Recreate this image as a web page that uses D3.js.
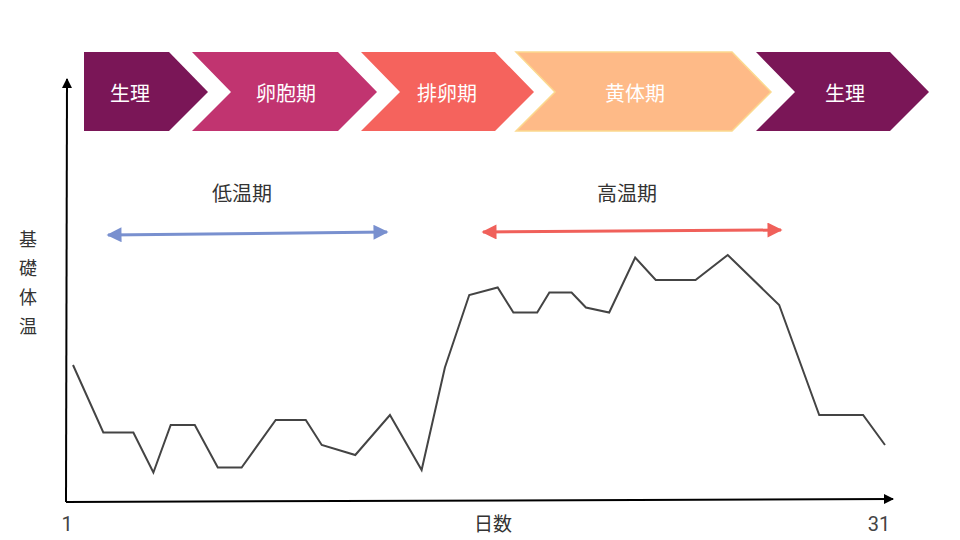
<!DOCTYPE html>
<html>
<head>
<meta charset="UTF-8">
<title>基礎体温</title>
<script type="text/javascript" src="https://cdn.jsdelivr.net/npm/d3@7/dist/d3.min.js"></script>
<style>
  body { margin: 0; background: #fff; }
  text { font-family: "Noto Sans CJK JP", "Noto Sans", sans-serif; }
</style>
</head>
<body>
<script type="text/javascript">
// 日（図から読んだ位置、等間隔ではない）
var days = [1, 2.12, 3.23, 3.97, 4.61, 5.5, 6.35, 7.23, 8.49, 9.6,
            10.19, 11.43, 12.71, 13.88, 14.74, 15.64, 16.69, 17.27, 18.15, 18.6,
            19.42, 19.95, 20.81, 21.77, 22.53, 24.0, 25.19, 27.09, 28.57, 30.19, 31];
// 体温（相対値）
var temps = [36.54, 36.27, 36.27, 36.11, 36.30, 36.30, 36.13, 36.13, 36.32, 36.32,
             36.22, 36.18, 36.34, 36.12, 36.53, 36.82, 36.85, 36.75, 36.75, 36.83,
             36.83, 36.77, 36.75, 36.97, 36.88, 36.88, 36.98, 36.78, 36.34, 36.34, 36.22];

var phaseNames = ["生理", "卵胞期", "排卵期", "黄体期", "生理"];
var phaseColors = ["#7a1657", "#c13470", "#f5635d", "#feba87", "#7a1657"];
var tickDays = [1, 31];
var periodNames = ["低温期", "高温期"];

var w = 960, h = 540;

var svg = d3.select("body")
  .append("svg")
  .attr("width", w)
  .attr("height", h);

var x = d3.scaleLinear().domain([1, 31]).range([73, 885]);
var y = d3.scaleLinear().domain([36.0, 37.0]).range([500, 250]);

// 矢印マーカー
var defs = svg.append("defs");
function marker(id, color, mw, mh) {
  defs.append("marker")
    .attr("id", id)
    .attr("viewBox", "0 0 10 10")
    .attr("refX", 9).attr("refY", 5)
    .attr("markerUnits", "userSpaceOnUse")
    .attr("markerWidth", mw).attr("markerHeight", mh)
    .attr("orient", "auto-start-reverse")
    .append("path")
    .attr("d", "M0,0L10,5L0,10Z")
    .attr("fill", color);
}
marker("axisArrow", "#000", 12, 10);
marker("blueArrow", "#7990cf", 19, 15);
marker("redArrow", "#f0605a", 19, 15);

// フェーズの矢羽根（レイアウト）
var chev = [
  { l: 84, r: 169, notch: false, tx: 130 },
  { l: 192, r: 338, notch: true, tx: 286 },
  { l: 361, r: 495, notch: true, tx: 447 },
  { l: 516, r: 732, notch: true, tx: 635 },
  { l: 756, r: 890, notch: true, tx: 845 }
];
var bandTop = 52, bandBot = 131, bandMid = 92, depth = 39;

var g = svg.append("g");
chev.forEach(function(c, i) {
  var pts = [[c.l, bandTop], [c.r, bandTop], [c.r + depth, bandMid], [c.r, bandBot], [c.l, bandBot]];
  if (c.notch) pts.push([c.l + depth, bandMid]);
  g.append("polygon")
    .attr("points", pts.map(function(p) { return p.join(","); }).join(" "))
    .attr("fill", phaseColors[i])
    .attr("stroke", i === 3 ? "#fbd98f" : "none")
    .attr("stroke-width", 1.5);
  g.append("text")
    .attr("x", c.tx).attr("y", bandMid)
    .attr("text-anchor", "middle")
    .attr("dominant-baseline", "central")
    .attr("font-size", 20)
    .attr("fill", "#fff")
    .text(phaseNames[i]);
});

// 低温期・高温期
var spans = [
  { x1: 108, y1: 235, x2: 387, y2: 232, tx: 242, m: "blueArrow", c: "#7990cf" },
  { x1: 483, y1: 232, x2: 781, y2: 230, tx: 627, m: "redArrow", c: "#f0605a" }
];
spans.forEach(function(s, i) {
  svg.append("line")
    .attr("x1", s.x1).attr("y1", s.y1)
    .attr("x2", s.x2).attr("y2", s.y2)
    .attr("stroke", s.c)
    .attr("stroke-width", 3)
    .attr("marker-start", "url(#" + s.m + ")")
    .attr("marker-end", "url(#" + s.m + ")");
  svg.append("text")
    .attr("x", s.tx).attr("y", 192)
    .attr("text-anchor", "middle")
    .attr("dominant-baseline", "central")
    .attr("font-size", 20)
    .attr("fill", "#333")
    .text(periodNames[i]);
});

// 軸
svg.append("line")
  .attr("x1", 66).attr("y1", 502)
  .attr("x2", 67).attr("y2", 79)
  .attr("stroke", "#000").attr("stroke-width", 2)
  .attr("marker-end", "url(#axisArrow)");
svg.append("line")
  .attr("x1", 66).attr("y1", 502)
  .attr("x2", 893).attr("y2", 499)
  .attr("stroke", "#000").attr("stroke-width", 2)
  .attr("marker-end", "url(#axisArrow)");

svg.selectAll("text.tick")
  .data(tickDays)
  .enter()
  .append("text")
  .attr("class", "tick")
  .attr("x", function(d) { return x(d) - 6; })
  .attr("y", 524)
  .attr("text-anchor", "middle")
  .attr("dominant-baseline", "central")
  .attr("font-size", 20)
  .attr("fill", "#444")
  .style("font-family", "Roboto, sans-serif")
  .text(function(d) { return d; });

svg.append("text")
  .attr("x", 493).attr("y", 522)
  .attr("text-anchor", "middle")
  .attr("dominant-baseline", "central")
  .attr("font-size", 19)
  .attr("fill", "#333")
  .text("日数");

svg.selectAll("text.ylab")
  .data("基礎体温".split(""))
  .enter()
  .append("text")
  .attr("class", "ylab")
  .attr("x", 28)
  .attr("y", function(d, i) { return 238 + i * 29; })
  .attr("text-anchor", "middle")
  .attr("dominant-baseline", "central")
  .attr("font-size", 18)
  .attr("fill", "#333")
  .text(function(d) { return d; });

// 体温の折れ線
var line = d3.line()
  .x(function(d, i) { return x(days[i]); })
  .y(function(d) { return y(d); });

svg.append("path")
  .datum(temps)
  .attr("d", line)
  .attr("fill", "none")
  .attr("stroke", "#444")
  .attr("stroke-width", 2)
  .attr("stroke-linejoin", "miter");
</script>
</body>
</html>
